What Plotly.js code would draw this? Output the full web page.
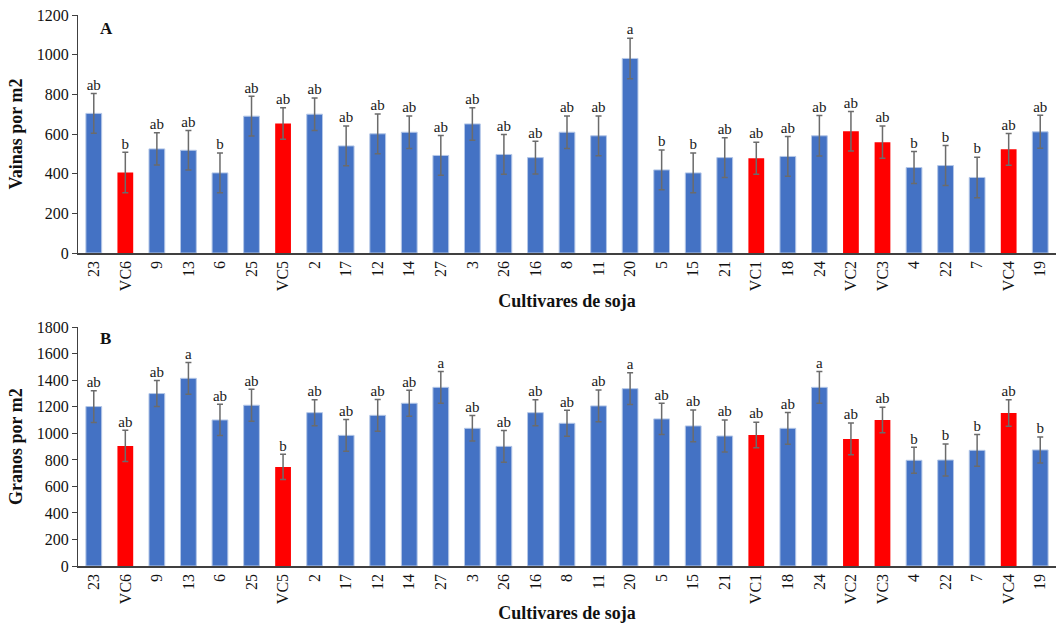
<!DOCTYPE html>
<html>
<head>
<meta charset="utf-8">
<script src="https://cdn.plot.ly/plotly-3.0.1.min.js"></script>
<style>html,body{margin:0;padding:0;background:#fff;}#chart{width:1057px;height:623px;}</style>
</head>
<body>
<div id="chart"></div>
<script>
// Categories (cultivars), same order in both panels
const cultivars = ["23","VC6","9","13","6","25","VC5","2","17","12","14","27","3","26","16","8","11","20","5","15","21","VC1","18","24","VC2","VC3","4","22","7","VC4","19"];

// Panel A: Vainas por m2
const vainas = [704,406,525,518,404,690,653,700,540,601,609,492,651,497,481,609,591,981,419,404,481,478,487,591,614,559,431,441,381,523,611];
const vainasErr = [100,102,81,100,100,100,80,82,100,100,82,100,82,100,82,82,100,102,100,100,100,81,100,102,100,81,81,101,102,80,83];
const vainasLetters = ["ab","b","ab","ab","b","ab","ab","ab","ab","ab","ab","ab","ab","ab","ab","ab","ab","a","b","b","ab","ab","ab","ab","ab","ab","b","b","b","ab","ab"];

// Panel B: Granos por m2
const granos = [1202,905,1300,1415,1101,1212,747,1156,985,1136,1227,1347,1038,902,1156,1076,1207,1337,1109,1056,980,988,1038,1347,958,1101,797,799,872,1154,875];
const granosErr = [120,118,98,120,118,120,95,98,120,120,98,120,96,120,98,98,120,120,118,120,120,96,120,120,120,96,98,120,120,100,98];
const granosLetters = ["ab","ab","ab","a","ab","ab","b","ab","ab","ab","ab","a","ab","ab","ab","ab","ab","a","ab","ab","ab","ab","ab","a","ab","ab","b","b","b","ab","b"];

const BLUE = "#4472C4", RED = "#FF0000";
const barColors = cultivars.map(c => c.startsWith("VC") ? RED : BLUE);
const lineColors = cultivars.map(c => c.startsWith("VC") ? "rgba(0,0,0,0)" : "#b4c7e7");
const serif = '"Liberation Serif", "DejaVu Serif", serif';

function barTrace(vals, errs, xa, ya) {
  return {
    type: "bar", x: cultivars, y: vals, xaxis: xa, yaxis: ya,
    marker: {color: barColors, line: {color: lineColors, width: 1}},
    error_y: {type: "data", array: errs, visible: true, color: "#6b6b6b", thickness: 1.5, width: 3},
    hoverinfo: "x+y", showlegend: false
  };
}
function letterTrace(vals, errs, letters, xa, ya) {
  return {
    type: "scatter", mode: "text", x: cultivars,
    y: vals.map((v, i) => v + errs[i]), text: letters,
    textposition: "top center", xaxis: xa, yaxis: ya,
    textfont: {family: serif, size: 15, color: "#1a1a1a"},
    hoverinfo: "skip", showlegend: false, cliponaxis: false
  };
}

const data = [
  barTrace(vainas, vainasErr, "x", "y"),
  letterTrace(vainas, vainasErr, vainasLetters, "x", "y"),
  barTrace(granos, granosErr, "x2", "y2"),
  letterTrace(granos, granosErr, granosLetters, "x2", "y2")
];

const xBase = {
  type: "category", showgrid: false, zeroline: false,
  range: [-0.5, cultivars.length - 0.5], autorange: false,
  showline: true, linecolor: "#404040", linewidth: 1.5,
  ticks: "", tickangle: -90,
  tickfont: {family: serif, size: 16, color: "#111"},
  automargin: false
};
const yBase = {
  showgrid: false, zeroline: false, showline: true, linecolor: "#404040", linewidth: 1,
  ticks: "outside", ticklen: 5, tickcolor: "#404040", dtick: 200,
  tickfont: {family: serif, size: 16, color: "#111"},
  automargin: false
};
const titleFont = {family: serif, size: 18, color: "#111", weight: "bold"};

const layout = {
  width: 1057, height: 623,
  margin: {l: 78, r: 1, t: 15, b: 57},
  paper_bgcolor: "#fff", plot_bgcolor: "#fff",
  bargap: 0.5,
  font: {family: serif},
  xaxis: Object.assign({}, xBase, {domain: [0, 1], anchor: "y",
    title: {text: "<b>Cultivares de soja</b>", font: titleFont, standoff: 4}}),
  yaxis: Object.assign({}, yBase, {domain: [0.568, 1], anchor: "x", range: [0, 1200],
    title: {text: "<b>Vainas por m2</b>", font: titleFont, standoff: 9}}),
  xaxis2: Object.assign({}, xBase, {domain: [0, 1], anchor: "y2",
    title: {text: "<b>Cultivares de soja</b>", font: titleFont, standoff: 4}}),
  yaxis2: Object.assign({}, yBase, {domain: [0, 0.4333], anchor: "x2", range: [0, 1800],
    title: {text: "<b>Granos por m2</b>", font: titleFont, standoff: 9}}),
  annotations: [
    {text: "<b>A</b>", xref: "paper", yref: "paper", x: 0.0205, y: 0.997, showarrow: false,
     font: {family: serif, size: 17, color: "#111"}, xanchor: "left", yanchor: "top"},
    {text: "<b>B</b>", xref: "paper", yref: "paper", x: 0.0205, y: 0.4345, showarrow: false,
     font: {family: serif, size: 17, color: "#111"}, xanchor: "left", yanchor: "top"}
  ]
};

Plotly.newPlot("chart", data, layout, {displayModeBar: false, staticPlot: true});
</script>
</body>
</html>
